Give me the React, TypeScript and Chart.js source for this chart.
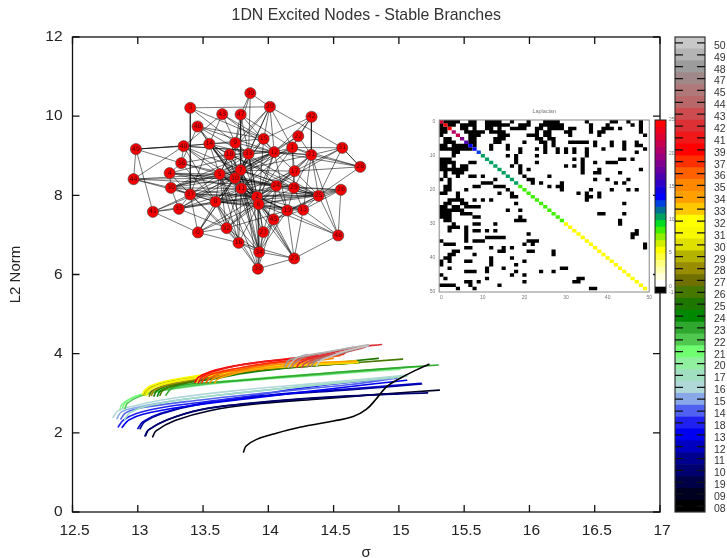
import React, { useEffect, useRef } from "react";
import { Chart, registerables } from "chart.js";

Chart.register(...registerables);

const FONT = "'Liberation Sans', Arial, sans-serif";

// Stable branches: [sigma, L2 norm]
const branch08 = [[13.81,1.515],[13.83,1.667],[13.91,1.835],[14.04,1.97],[14.24,2.14],[14.5,2.3],[14.65,2.41],[14.75,2.59],[14.83,2.87],[14.905,3.16],[15.01,3.38],[15.135,3.59],[15.23,3.73]];
const branch09 = [[13.114,1.9],[13.14,2.05],[13.285,2.31],[13.55,2.56],[13.94,2.74],[14.37,2.85],[14.88,2.98],[15.31,3.08]];
const branch19 = [[13.06,1.93],[13.085,2.08],[13.225,2.33],[13.485,2.59],[13.865,2.75],[14.245,2.86],[14.755,2.955],[15.0,2.99]];
const branch10 = [[13.055,1.92],[13.08,2.07],[13.22,2.32],[13.48,2.58],[13.86,2.74],[14.24,2.85],[14.75,2.95],[15.22,3.01]];
const branch11 = [[13.017,2.104],[13.055,2.281],[13.183,2.483],[13.489,2.727],[14.0,2.937],[14.637,3.089],[15.174,3.232]];
const branch12 = [[13.0,2.11],[13.04,2.28],[13.17,2.49],[13.48,2.74],[13.99,2.95],[14.625,3.11],[15.17,3.25]];
const branch13 = [[12.88,2.14],[12.93,2.32],[13.04,2.47],[13.35,2.66],[13.86,2.87],[14.5,3.12],[15.06,3.33]];
const branch18 = [[12.85,2.15],[12.89,2.32],[12.99,2.49],[13.22,2.66],[13.73,2.87],[14.37,3.18],[14.99,3.4]];
const branch14 = [[12.87,2.35],[12.91,2.51],[13.04,2.64],[13.48,2.83],[13.99,3.01],[14.625,3.22],[14.98,3.38]];
const branch15 = [[12.84,2.36],[12.875,2.53],[12.99,2.64],[13.27,2.81],[13.78,3.01],[14.37,3.21],[14.96,3.38]];
const branch16 = [[12.81,2.39],[12.85,2.56],[12.97,2.68],[13.22,2.85],[13.73,3.06],[14.37,3.25],[15.07,3.46]];
const branch17 = [[12.9,2.34],[12.94,2.51],[13.07,2.68],[13.48,2.9],[14.24,3.16],[15.06,3.43]];
const branch20 = [[12.864,2.592],[12.879,2.718],[12.94,2.853],[13.03,2.954],[13.221,3.08],[13.604,3.249],[14.497,3.484],[15.008,3.602]];
const branch21 = [[12.884,2.643],[12.902,2.76],[12.961,2.895],[13.037,2.979],[13.221,3.122],[13.604,3.282],[14.497,3.518],[15.161,3.67]];
const branch22 = [[12.902,2.617],[12.92,2.744],[12.979,2.87],[13.055,2.963],[13.247,3.106],[13.629,3.274],[14.497,3.501],[15.11,3.67]];
const branch23 = [[13.216,2.954],[13.259,3.122],[13.374,3.223],[13.732,3.308],[14.497,3.526],[15.301,3.712]];
const branch24 = [[13.15,2.929],[13.17,3.047],[13.234,3.148],[13.349,3.249],[13.553,3.35],[13.859,3.526],[14.293,3.678],[14.701,3.779]];
const branch25 = [[13.124,2.929],[13.145,3.064],[13.208,3.165],[13.323,3.257],[13.527,3.367],[13.859,3.543],[14.293,3.695],[14.842,3.88]];
const branch26 = [[13.17,2.946],[13.19,3.064],[13.247,3.165],[13.374,3.265],[13.578,3.375],[13.885,3.569],[14.344,3.687],[15.028,3.863]];
const branch27 = [[13.088,2.929],[13.106,3.055],[13.165,3.148],[13.285,3.249],[13.502,3.367],[13.808,3.543],[14.242,3.687],[14.676,3.771]];
const branch28 = [[13.106,2.946],[13.124,3.064],[13.183,3.165],[13.303,3.265],[13.527,3.392],[13.834,3.569],[14.293,3.703],[14.689,3.771]];
const branch29 = [[13.042,2.954],[13.055,3.038],[13.106,3.165],[13.221,3.291],[13.476,3.434],[13.808,3.61],[14.242,3.728],[14.676,3.796]];
const branch30 = [[13.055,2.946],[13.073,3.064],[13.132,3.165],[13.259,3.274],[13.476,3.4],[13.808,3.577],[14.242,3.703],[14.689,3.779]];
const branch31 = [[13.068,2.954],[13.086,3.064],[13.145,3.181],[13.267,3.291],[13.502,3.417],[13.834,3.585],[14.293,3.72],[14.676,3.787]];
const branch32 = [[13.037,2.979],[13.05,3.064],[13.099,3.19],[13.216,3.308],[13.471,3.451],[13.808,3.627],[14.242,3.745],[14.671,3.813]];
const branch33 = [[13.451,3.274],[13.476,3.375],[13.578,3.484],[13.783,3.569],[14.191,3.687],[14.676,3.796]];
const branch34 = [[13.591,3.265],[13.609,3.35],[13.693,3.451],[13.834,3.56],[14.063,3.67],[14.293,3.754],[14.676,3.813]];
const branch35 = [[13.553,3.265],[13.578,3.367],[13.668,3.476],[13.808,3.585],[14.038,3.712],[14.242,3.779],[14.497,3.88]];
const branch36 = [[13.522,3.265],[13.548,3.375],[13.629,3.501],[13.783,3.602],[14.012,3.737],[14.242,3.821],[14.548,3.947]];
const branch37 = [[13.489,3.265],[13.515,3.4],[13.604,3.518],[13.757,3.627],[13.987,3.754],[14.216,3.838],[14.574,3.981]];
const branch39 = [[13.438,3.274],[13.464,3.4],[13.553,3.543],[13.732,3.686],[13.987,3.804],[14.217,3.88],[14.497,3.981]];
const branch41 = [[13.464,3.265],[13.489,3.4],[13.578,3.543],[13.757,3.695],[14.012,3.821],[14.242,3.905],[14.587,4.006]];
const branch42 = [[14.216,3.653],[14.242,3.77],[14.344,3.905],[14.497,4.031],[14.676,4.158],[14.867,4.233]];
const branch43 = [[14.255,3.653],[14.28,3.754],[14.37,3.88],[14.497,3.99],[14.676,4.107],[14.765,4.191]];
const branch44 = [[14.298,3.67],[14.324,3.77],[14.395,3.855],[14.548,3.99],[14.765,4.208]];
const branch45 = [[14.178,3.653],[14.204,3.77],[14.268,3.905],[14.446,4.031],[14.65,4.158]];
const branch47 = [[14.331,3.686],[14.357,3.796],[14.433,3.897],[14.574,4.031],[14.765,4.217]];
const branch48 = [[14.127,3.67],[14.153,3.821],[14.216,3.897],[14.298,3.981]];
const branch49 = [[14.153,3.653],[14.178,3.787],[14.242,3.922],[14.421,4.031],[14.765,4.225]];
const branch50 = [[14.37,3.695],[14.4,3.821],[14.472,3.922],[14.599,4.074],[14.765,4.2]];

const legendLabels = ["50","49","48","47","45","44","43","42","41","39","37","36","35","34","33","32","31","30","29","28","27","26","25","24","23","22","21","20","17","16","15","14","18","13","12","11","10","19","09","08"];
const legendColors = ["#c8c8c8","#b4b4b4","#9c9c9c","#a08888","#b07878","#b86868","#cc4c50","#dd3035","#f01818","#ff0000","#ff3000","#ff6000","#ff8800","#ffa000","#ffc800","#ffff00","#f8f800","#e0e000","#b4b400","#988c00","#707000","#467800","#1e7800","#008800","#30a830","#50c850","#70ff70","#90f0a0","#a0e0c0","#b0d8d8","#88a8e8","#5060f0","#2020f0","#0000f0","#0000c0","#000090","#000070","#000048","#000020","#000000"];
const branchPoints: Record<string, number[][]> = {
  "08":branch08,"09":branch09,"19":branch19,"10":branch10,"11":branch11,"12":branch12,"13":branch13,"18":branch18,"14":branch14,"15":branch15,"16":branch16,"17":branch17,
  "20":branch20,"21":branch21,"22":branch22,"23":branch23,"24":branch24,"25":branch25,"26":branch26,"27":branch27,"28":branch28,"29":branch29,"30":branch30,"31":branch31,"32":branch32,"33":branch33,
  "34":branch34,"35":branch35,"36":branch36,"37":branch37,"39":branch39,"41":branch41,"42":branch42,"43":branch43,"44":branch44,"45":branch45,"47":branch47,"48":branch48,"49":branch49,"50":branch50,
};

// Network nodes placed on the sigma / L2 axes
const nodeLabels = ["39","20","3","43","47","42","48","22","15","9","14","40","1","31","49","12","33","18","21","36","28","7","17","4","5","10","44","30","24","29","11","26","37","2","25","8","6","35","41","19","13","45","32","0","27","46","16","34","23","38"];
const nodeSigma = [13.862,14.012,13.402,13.647,13.788,14.331,13.458,14.229,13.964,13.747,13.548,13.351,14.183,14.566,12.986,14.045,13.849,13.703,14.329,13.333,14.704,13.788,14.201,13.244,13.627,13.744,12.968,13.254,14.061,14.196,13.793,14.556,13.402,13.913,14.385,13.596,13.926,13.315,13.116,14.145,14.267,14.04,13.68,13.461,13.961,14.535,13.772,13.93,14.198,13.92];
const nodeNorm = [10.581,10.236,10.21,10.05,10.042,9.983,9.739,9.495,9.428,9.327,9.301,9.242,9.209,9.2,9.167,9.091,9.049,9.032,9.023,8.813,8.72,8.636,8.611,8.561,8.535,8.434,8.409,8.19,8.241,8.19,8.173,8.14,8.022,7.963,7.988,7.837,7.778,7.66,7.584,7.618,7.635,7.39,7.172,7.062,7.071,6.986,6.801,6.566,6.406,6.145];
const networkEdges = "3-20 3-37 3-9 3-15 39-20 39-47 39-9 39-33 20-12 20-15 20-9 20-33 20-31 20-7 20-1 20-18 43-14 43-12 43-40 43-9 43-15 47-9 47-33 47-7 47-12 47-1 42-21 42-22 42-12 42-15 42-1 48-14 48-12 48-2 48-15 48-10 48-25 22-1 22-12 22-7 22-21 15-12 15-33 15-7 15-10 15-6 15-14 9-14 9-12 9-18 9-33 9-5 9-10 9-24 9-2 14-40 14-33 14-18 14-5 14-10 14-7 14-11 14-2 14-6 14-37 14-29 40-49 40-44 40-12 40-36 40-5 40-10 40-21 40-7 40-8 1-12 1-31 1-21 1-17 1-28 1-7 1-10 1-29 1-11 1-2 31-21 31-28 31-24 31-25 31-17 49-44 49-41 49-40 49-14 49-36 12-33 12-18 12-21 12-28 12-7 12-10 12-11 12-2 12-6 12-37 12-30 12-5 12-17 12-19 33-18 33-7 33-5 33-10 33-2 33-6 33-34 33-32 33-30 33-4 18-5 18-10 18-2 18-6 18-25 18-36 21-28 21-17 21-13 21-2 21-24 21-7 21-46 21-25 21-29 36-4 36-5 36-8 36-24 36-48 28-17 28-25 28-31 7-5 7-10 7-11 7-2 7-6 7-17 7-24 7-29 7-8 7-30 7-35 7-34 7-25 7-38 7-0 17-24 17-29 17-25 17-2 17-6 17-8 4-30 4-5 4-37 4-10 4-24 4-11 5-10 5-11 5-30 5-8 5-37 5-32 5-2 5-6 5-16 5-34 5-38 10-44 10-11 10-30 10-2 10-6 10-24 10-29 10-25 10-41 10-8 10-35 10-16 10-34 10-0 10-45 44-30 44-37 44-5 44-24 30-37 30-11 30-35 30-8 30-2 24-29 24-2 24-6 24-25 24-19 24-8 24-32 24-45 24-27 24-26 24-0 29-25 29-26 29-6 29-19 29-13 11-2 11-6 11-37 11-8 11-35 11-45 11-19 11-16 11-34 11-27 11-25 11-23 26-25 26-46 26-2 26-6 26-19 26-13 37-8 37-35 37-41 37-2 37-6 37-25 37-0 37-16 37-32 2-6 2-25 2-8 2-19 2-13 2-45 2-46 2-27 2-34 2-23 2-32 2-35 25-6 25-19 25-13 25-46 25-45 25-8 8-6 8-35 8-41 8-0 8-32 8-16 8-38 8-34 8-13 8-19 6-19 6-13 6-45 6-27 6-34 6-23 6-38 6-16 6-46 6-32 6-0 35-41 35-32 41-0 19-13 19-23 19-27 19-34 19-32 13-23 13-46 13-45 45-34 45-27 45-23 45-38 32-0 32-16 32-34 0-16 16-34 16-23 16-38 34-38 34-23 23-38 23-46 27-38 27-34".split(" ");

// Laplacian: off-diagonal non-zero columns of the upper triangle, by row
const laplacianUpper: number[][] = [
  [1,2,3,4,7,8,11,12,13,14,17,21,25,26,27,28,35,41,42,45,48],
  [2,3,5,6,7,8,11,12,13,14,15,16,19,20,21,24,25,26,27,28,29,36,40,46,48],
  [5,6,8,11,12,14,17,18,19,20,23,24,26,27,28,29,31,32,36,39,40,41,43,48],
  [6,7,8,9,10,12,13,14,15,23,25,26,30,31,36,38,39,48],
  [7,8,9,14,15,16,21,22,23,25,26,31,38,49],
  [7,8,13,14,15,23,24,26,27],
  [7,8,13,14,20,24,25,27,31,32,33,34,35,37,41,44,47],
  [8,12,16,25,27,37,41,44,47,48],
  [12,16,19,23,25,28,30,32,35,39,44,49],
  [19,25,28,30,32,35,47],
  [16,18,23,35],
  [18,32,34,43,44,46],
  [18,23,34,37,40,41,42],
  [17,19,30,32,34],
  [19,21,34,38,48],
  [19,34,37,38,43],
  [20,26],
  [21,22,37,40,45],
  [22,24,29,42,44],
  [26,28,29],
  [29,36,41,45,47],
  [33,35,38],
  [35,36,38],
  [35],
  [44],
  [],
  [],
  [38,39,44],
  [],
  [43],
  [43],
  [],
  [47],
  [46,47],
  [46],
  [],
  [49],
  [49],
  [],[],[],[],[],[],[],[],[],[],[],[],
];
const laplacianDiagonal = ["#dd0030","#ff0000","#ff0000","#b00068","#c80050","#800090","#4800b0","#0000ff","#0000ff","#0040e0","#00a060","#00a060","#00a060","#00a060","#00a060","#00a060","#00a060","#00a060","#00a060","#40ee00","#40ee00","#40ee00","#40ee00","#40ee00","#40ee00","#40ee00","#40ee00","#40ee00","#40ee00","#40ee00","#ffff00","#ffff00","#ffff00","#ffff00","#ffff00","#ffff00","#ffff00","#ffff00","#ffff00","#ffff00","#ffff00","#ffff00","#ffff00","#ffff00","#ffff00","#ffff00","#ffff00","#ffff00","#ffff00","#ffff00"];
const heatTicks = [0, 10, 20, 30, 40, 50];

const scaleColors = ["#ff0000","#ee0018","#dd0030","#c80050","#b00068","#980080","#800090","#6800a0","#4800b0","#3000c8","#1000e0","#0000ff","#0040e0","#007090","#00a060","#00dd20","#40ee00","#90ee00","#d0f000","#ffff00","#ffff40","#ffff80","#ffffb0","#ffffe0","#ffffff","#000000"];
const scaleTicks = [25, 20, 15, 10, 5, 0, -1];

const framePlugin = {
  id: "frame",
  afterDatasetsDraw(chart: any, _a: any, o: any) {
    const { ctx, chartArea: a, scales } = chart;
    ctx.save();
    ctx.strokeStyle = o.color;
    ctx.lineWidth = o.width;
    ctx.strokeRect(a.left, a.top, a.right - a.left, a.bottom - a.top);
    if (o.xLen && scales.x) {
      scales.x.ticks.forEach((_t: any, i: number) => {
        const x = scales.x.getPixelForTick(i);
        ctx.beginPath();
        ctx.moveTo(x, a.bottom); ctx.lineTo(x, a.bottom - o.xLen);
        ctx.moveTo(x, a.top); ctx.lineTo(x, a.top + o.xLen);
        ctx.stroke();
      });
    }
    if (o.yLen && scales.y) {
      ctx.lineWidth = o.tickWidth || o.width;
      ctx.strokeStyle = o.tickColor || o.color;
      scales.y.ticks.forEach((_t: any, i: number) => {
        const y = scales.y.getPixelForTick(i);
        ctx.beginPath();
        ctx.moveTo(a.left, y); ctx.lineTo(a.left + o.yLen, y);
        ctx.moveTo(a.right, y); ctx.lineTo(a.right - o.yLen, y);
        ctx.stroke();
      });
    }
    ctx.restore();
  },
};

const nodeTextPlugin = {
  id: "nodeText",
  afterDatasetsDraw(chart: any) {
    const idx = chart.data.datasets.findIndex((d: any) => d.label === "nodes");
    const meta = chart.getDatasetMeta(idx);
    const { ctx } = chart;
    ctx.save();
    ctx.font = `6.2px 'DejaVu Sans', sans-serif`;
    ctx.fillStyle = "rgba(50,0,0,0.85)";
    ctx.textAlign = "center";
    ctx.textBaseline = "middle";
    meta.data.forEach((p: any, i: number) => ctx.fillText(nodeLabels[i], p.x, p.y));
    ctx.restore();
  },
};

const fitW = (w: number) => (s: any) => { s.width = w; };
const fitH = (h: number) => (s: any) => { s.height = h; };
const noGrid = { display: false, drawTicks: false };

function edgePoints() {
  const pts: any[] = [];
  networkEdges.forEach((e) => {
    const [a, b] = e.split("-").map((l) => nodeLabels.indexOf(l));
    pts.push({ x: nodeSigma[a], y: nodeNorm[a] }, { x: nodeSigma[b], y: nodeNorm[b] }, { x: NaN, y: NaN });
  });
  return pts;
}

function blackCellPoints() {
  const rows: number[][] = laplacianUpper.map((r) => [...r]);
  laplacianUpper.forEach((cols, r) => cols.forEach((c) => rows[c].push(r)));
  const pts: any[] = [];
  rows.forEach((cols, r) => {
    const sorted = [...new Set(cols)].sort((a, b) => a - b);
    sorted.forEach((c, i) => {
      if (i === 0 || sorted[i - 1] !== c - 1) pts.push({ x: c - 0.5, y: r });
      if (sorted[i + 1] !== c + 1) pts.push({ x: c + 0.5, y: r }, { x: NaN, y: NaN });
    });
  });
  return pts;
}

export default function App() {
  const mainRef = useRef<HTMLCanvasElement>(null);
  const heatRef = useRef<HTMLCanvasElement>(null);
  const scaleRef = useRef<HTMLCanvasElement>(null);
  const legendRef = useRef<HTMLCanvasElement>(null);

  useEffect(() => {
    const order = ["08", ...legendLabels.filter((l) => l !== "08")];
    const curveSets = order.map((label) => ({
      label,
      data: branchPoints[label].map(([x, y]) => ({ x, y })),
      borderColor: legendColors[legendLabels.indexOf(label)],
      borderWidth: 1.6,
      pointRadius: 0,
      showLine: true,
      tension: 0.4,
      borderCapStyle: "round" as const,
    }));

    const main = new Chart(mainRef.current!, {
      type: "scatter",
      data: {
        datasets: [
          {
            label: "nodes",
            data: nodeSigma.map((x, i) => ({ x, y: nodeNorm[i] })),
            backgroundColor: "#f40000",
            borderColor: "#444",
            borderWidth: 0.6,
            pointRadius: 5.6,
          },
          {
            label: "edges",
            data: edgePoints(),
            borderColor: "rgba(0,0,0,0.6)",
            borderWidth: 0.9,
            pointRadius: 0,
            showLine: true,
          },
          ...curveSets,
        ] as any,
      },
      options: {
        animation: false,
        responsive: false,
        layout: { padding: { left: 0, right: 67, top: 0, bottom: 0 } },
        plugins: {
          legend: { display: false },
          tooltip: { enabled: false },
          title: {
            display: true,
            text: "1DN Excited Nodes - Stable Branches",
            fullSize: false,
            color: "#333",
            font: { family: FONT, size: 15.9, lineHeight: 1.2, weight: "normal" },
            padding: { top: 6, bottom: 11.9 },
          },
          frame: { color: "#111", width: 1.3, xLen: 7, yLen: 7 },
        } as any,
        scales: {
          x: {
            type: "linear", min: 12.5, max: 17,
            afterFit: fitH(46),
            grid: noGrid,
            border: { display: false },
            ticks: {
              stepSize: 0.5, padding: 9, labelOffset: 2, maxRotation: 0, color: "#222",
              font: { family: FONT, size: 15.5 },
              callback: (v: any) => String(v),
            },
            title: { display: true, text: "σ", color: "#222", font: { family: FONT, size: 15, lineHeight: 1 }, padding: { top: 0, bottom: -2 } },
          },
          y: {
            type: "linear", min: 0, max: 12,
            afterFit: fitW(72.5),
            grid: noGrid,
            border: { display: false },
            ticks: { stepSize: 2, padding: 10, color: "#222", font: { family: FONT, size: 15.5 } },
            title: { display: true, text: "L2 Norm", color: "#222", font: { family: FONT, size: 15, lineHeight: 1 }, padding: { top: 8, bottom: 0 } },
          },
        } as any,
      },
      plugins: [framePlugin, nodeTextPlugin],
    });

    const heat = new Chart(heatRef.current!, {
      type: "scatter",
      data: {
        datasets: [
          ...laplacianDiagonal.map((color, i) => ({
            data: [{ x: i - 0.5, y: i }, { x: i + 0.5, y: i }],
            borderColor: color,
            borderWidth: 3.5,
            pointRadius: 0,
            showLine: true,
          })),
          {
            data: blackCellPoints(),
            borderColor: "#000",
            borderWidth: 3.5,
            pointRadius: 0,
            showLine: true,
          },
        ] as any,
      },
      options: {
        animation: false,
        responsive: false,
        layout: { padding: { left: 0, right: 5, top: 0, bottom: 0 } },
        plugins: {
          legend: { display: false },
          tooltip: { enabled: false },
          title: {
            display: true,
            text: "Laplacian",
            fullSize: false,
            color: "#777",
            font: { family: FONT, size: 5.5, lineHeight: 1.2, weight: "normal" },
            padding: { top: 8, bottom: 5.4 },
          },
          frame: { color: "#888", width: 1 },
        } as any,
        scales: {
          x: {
            type: "linear", min: -0.5, max: 50,
            afterFit: fitH(13),
            afterBuildTicks: (s: any) => { s.ticks = heatTicks.map((value) => ({ value })); },
            grid: noGrid, border: { display: false },
            ticks: { padding: 3, color: "#777", maxRotation: 0, font: { family: FONT, size: 5 } },
          },
          y: {
            type: "linear", min: -0.5, max: 50, reverse: true,
            afterFit: fitW(14.2),
            afterBuildTicks: (s: any) => { s.ticks = heatTicks.map((value) => ({ value })); },
            grid: noGrid, border: { display: false },
            ticks: { padding: 4, color: "#777", font: { family: FONT, size: 5 } },
          },
        } as any,
      },
      plugins: [framePlugin],
    });

    const scale = new Chart(scaleRef.current!, {
      type: "bar",
      data: {
        labels: ["level"],
        datasets: scaleColors.map((color, i) => ({
          data: [[24 - i, 25 - i]],
          backgroundColor: color,
          borderWidth: 0,
          barPercentage: 1,
          categoryPercentage: 1,
        })) as any,
      },
      options: {
        animation: false,
        responsive: false,
        layout: { padding: { left: 5, right: 0, top: 20, bottom: 12 } },
        plugins: {
          legend: { display: false },
          tooltip: { enabled: false },
          frame: { color: "#222", width: 1 },
        } as any,
        datasets: { bar: { grouped: false } },
        scales: {
          x: { display: false, grid: { display: false } },
          y: {
            type: "linear", min: -1, max: 25, position: "right",
            afterFit: fitW(18),
            afterBuildTicks: (s: any) => { s.ticks = scaleTicks.map((value) => ({ value })); },
            grid: noGrid, border: { display: false },
            ticks: { padding: 3, color: "#777", font: { family: FONT, size: 5 } },
          },
        } as any,
      },
      plugins: [framePlugin],
    });

    const legend = new Chart(legendRef.current!, {
      type: "bar",
      data: {
        labels: legendLabels,
        datasets: [{
          data: legendLabels.map(() => [0, 1]),
          backgroundColor: legendColors,
          borderWidth: 0,
          barPercentage: 1,
          categoryPercentage: 1,
        }] as any,
      },
      options: {
        indexAxis: "y",
        animation: false,
        responsive: false,
        layout: { padding: { left: 5, right: 0, top: 37, bottom: 46 } },
        plugins: {
          legend: { display: false },
          tooltip: { enabled: false },
          frame: { color: "#333", width: 1.2, yLen: 8, tickColor: "#111", tickWidth: 1.3 },
        } as any,
        scales: {
          x: { display: false, min: 0, max: 1, grid: { display: false } },
          y: {
            type: "category", position: "right",
            afterFit: fitW(22),
            grid: noGrid, border: { display: false },
            ticks: { padding: 9, labelOffset: 3, autoSkip: false, color: "#333", font: { family: FONT, size: 10.5 } },
          },
        } as any,
      },
      plugins: [framePlugin],
    });

    return () => { main.destroy(); heat.destroy(); scale.destroy(); legend.destroy(); };
  }, []);

  const abs = (left: number, top: number): React.CSSProperties => ({ position: "absolute", left, top, display: "block" });
  return (
    <div style={{ position: "fixed", left: 0, top: 0, width: 727, height: 558, overflow: "hidden", background: "#fff" }}>
      <canvas ref={mainRef} width={727} height={558} style={abs(0, 0)} />
      <canvas ref={heatRef} width={230} height={205} style={abs(425, 100)} />
      <canvas ref={scaleRef} width={34} height={205} style={abs(650, 100)} />
      <canvas ref={legendRef} width={57} height={558} style={abs(670, 0)} />
    </div>
  );
}
